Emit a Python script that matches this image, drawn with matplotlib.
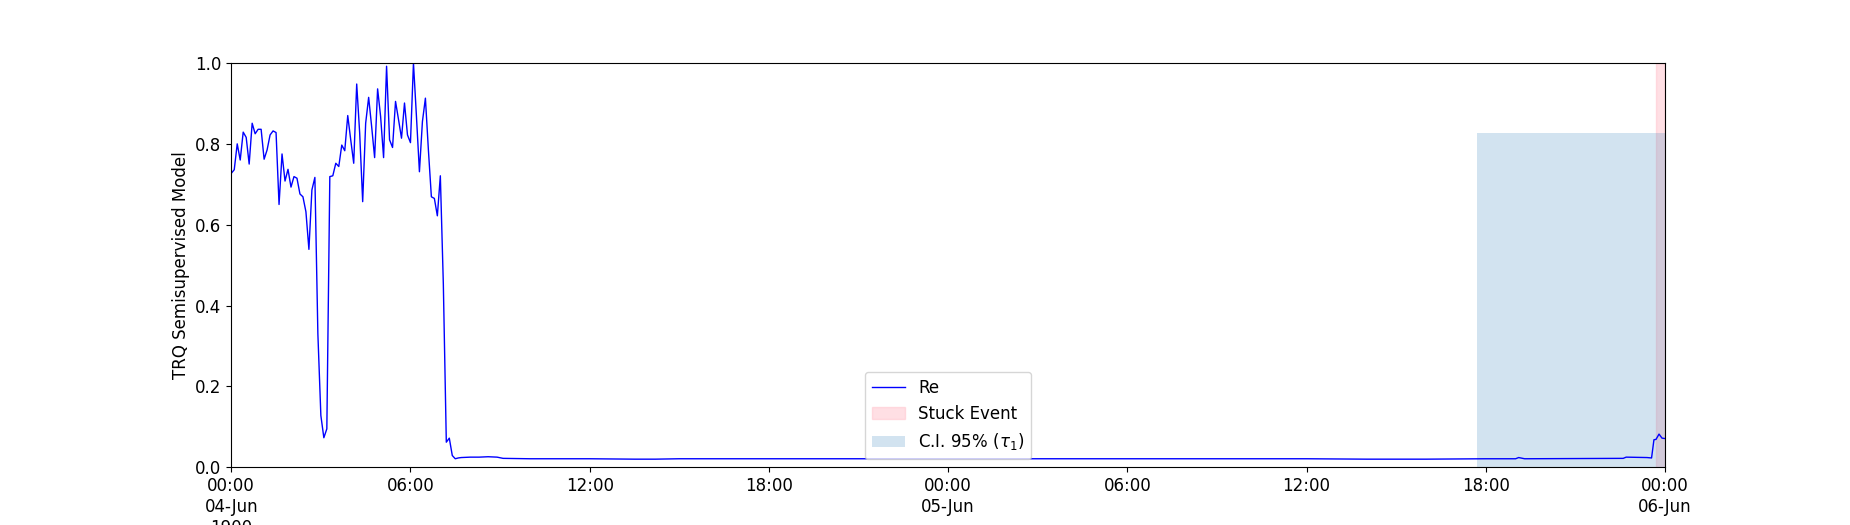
import numpy as np
import pandas as pd
import matplotlib
matplotlib.use("Agg")
import matplotlib.pyplot as plt
import matplotlib.dates as mdates

# hours since 04-Jun 00:00 and model output
early_vals = [0.727, 0.736, 0.80, 0.76, 0.829, 0.816, 0.75, 0.851, 0.825, 0.836,
              0.836, 0.762, 0.785, 0.822, 0.832, 0.828, 0.650, 0.775, 0.708, 0.737,
              0.693, 0.719, 0.715, 0.676, 0.669, 0.632, 0.539, 0.686, 0.717, 0.33,
              0.128, 0.073, 0.095, 0.719, 0.721, 0.752, 0.744, 0.797, 0.783, 0.870,
              0.81, 0.752, 0.948, 0.826, 0.657, 0.851, 0.915, 0.843, 0.766, 0.936,
              0.868, 0.766, 0.992, 0.81, 0.791, 0.905, 0.86, 0.814, 0.901, 0.822,
              0.803, 1.0, 0.868, 0.731, 0.855, 0.913, 0.785, 0.669, 0.665, 0.622,
              0.721, 0.454, 0.062, 0.072, 0.029, 0.021, 0.023]
early_hours = list(np.arange(len(early_vals)) * 0.1)

tail_hours = [7.7, 8.0, 8.3, 8.6, 8.9, 9.1, 10.0, 12.0, 13.5, 14.2, 15.0, 16.0,
              18.0, 20.0, 24.0, 30.0, 36.0, 38.0, 40.0, 42.0, 43.0, 43.1, 43.3,
              46.6, 46.7, 47.4, 47.55, 47.63, 47.7, 47.8, 47.9, 48.0]
tail_vals = [0.024, 0.025, 0.025, 0.026, 0.025, 0.022, 0.021, 0.021, 0.020, 0.020,
             0.021, 0.021, 0.021, 0.021, 0.021, 0.021, 0.021, 0.020, 0.020, 0.021,
             0.021, 0.024, 0.021, 0.022, 0.025, 0.024, 0.023, 0.068, 0.069, 0.082,
             0.072, 0.071]

hours = early_hours + tail_hours
vals = early_vals + tail_vals

start = pd.Timestamp("1900-06-04 00:00")
end = pd.Timestamp("1900-06-06 00:00")
t = [start + pd.Timedelta(hours=h) for h in hours]

stuck_start = start + pd.Timedelta(hours=47.71)
ci_start = start + pd.Timedelta(hours=41.72)
ci_top = 0.828

fig, ax = plt.subplots(figsize=(18.5, 5.25), dpi=100)
ax.plot(t, vals, color="b", linewidth=1, label="Re")
ax.axvspan(stuck_start, end, color="pink", alpha=0.5, label="Stuck Event")
ax.fill_between([ci_start, end], 0, ci_top, color="tab:blue", alpha=0.2,
                linewidth=0, label="C.I. 95% ($\\tau_1$)")

ax.set_xlim(start, end)
ax.set_ylim(0, 1)
ax.set_ylabel("TRQ Semisupervised Model", fontsize=12)


def fmt(x, pos=None):
    d = mdates.num2date(x)
    if d.hour == 0:
        s = d.strftime("%H:%M\n%d-%b")
        if pos == 0:
            s += "\n%d" % d.year
        return s
    return d.strftime("%H:%M")


ax.xaxis.set_major_locator(mdates.HourLocator(byhour=[0, 6, 12, 18]))
ax.xaxis.set_major_formatter(plt.FuncFormatter(fmt))
ax.tick_params(labelsize=12)
ax.legend(loc="lower center", fontsize=12)

plt.savefig("out.png")
